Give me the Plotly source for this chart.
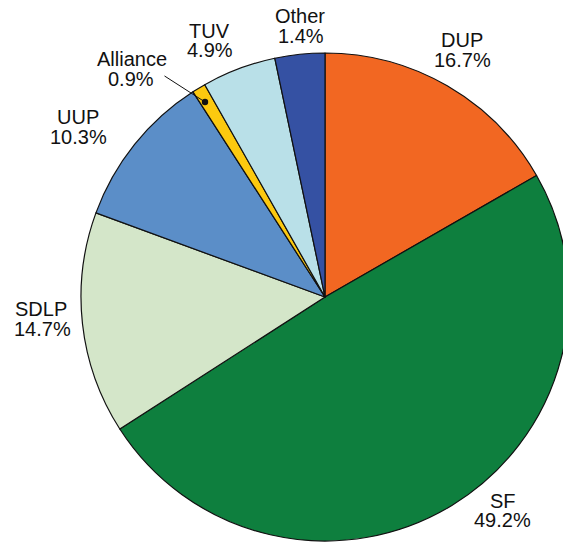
import plotly.graph_objects as go

parties = ["DUP", "SF", "SDLP", "UUP", "Alliance", "TUV", "Other"]
# slice sizes as drawn in the picture
slice_sizes = [16.7, 49.2, 14.7, 10.3, 0.9, 4.9, 3.3]
# percentages printed on the labels
shown_pct = ["16.7%", "49.2%", "14.7%", "10.3%", "0.9%", "4.9%", "1.4%"]

colors = ["#f26722", "#0e7f3e", "#d4e6c9", "#5b8ec8", "#fcc90f", "#b9e0e8", "#3551a3"]

# the page body has an 8px margin, so the figure is drawn 8px in from the window
OFF = 8
W, H = 571 - OFF, 543 - OFF
cx, cy, r = 325 - OFF, 297 - OFF, 244


def px2paper(px, py):
    return (px - OFF) / W, 1 - (py - OFF) / H


# label line centres in window pixels: (name line, percent line)
label_px = {
    "DUP": ((462, 40), (463, 60)),
    "SF": ((503, 501), (502, 520)),
    "SDLP": ((41, 309), (42, 329)),
    "UUP": ((78, 117), (78, 137)),
    "Alliance": ((132, 59), (131, 79)),
    "TUV": ((209, 31), (210, 50)),
    "Other": ((300, 16), (301, 36)),
}

fig = go.Figure(
    go.Pie(
        labels=parties,
        values=slice_sizes,
        sort=False,
        direction="clockwise",
        rotation=0,
        marker=dict(colors=colors, line=dict(color="#111111", width=1.2)),
        textinfo="none",
        hoverinfo="label+percent",
        showlegend=False,
        domain=dict(
            x=[(cx - r) / W, min(1, (cx + r) / W)],
            y=[max(0, (H - cy - r) / H), (H - cy + r) / H],
        ),
    )
)

font = dict(family="Liberation Sans, Arial, sans-serif", size=20, color="#111111")
annotations = []
for name, pct in zip(parties, shown_pct):
    for text, pos in zip((name, pct), label_px[name]):
        x, y = px2paper(*pos)
        annotations.append(
            dict(
                x=x,
                y=y,
                xref="paper",
                yref="paper",
                xanchor="center",
                yanchor="middle",
                text=text,
                showarrow=False,
                font=font,
            )
        )

# Alliance leader line with dot
dot_x, dot_y = 205, 102
x, y = px2paper(dot_x, dot_y)
annotations.append(
    dict(
        x=x,
        y=y,
        xref="paper",
        yref="paper",
        text="",
        showarrow=True,
        arrowhead=6,
        arrowsize=1.6,
        arrowwidth=1,
        standoff=0,
        arrowcolor="#111111",
        ax=163 - dot_x,
        ay=75 - dot_y,
    )
)

fig.update_layout(
    width=W,
    height=H,
    margin=dict(l=0, r=0, t=0, b=0),
    paper_bgcolor="white",
    plot_bgcolor="white",
    annotations=annotations,
)

fig.write_html("out.html")
